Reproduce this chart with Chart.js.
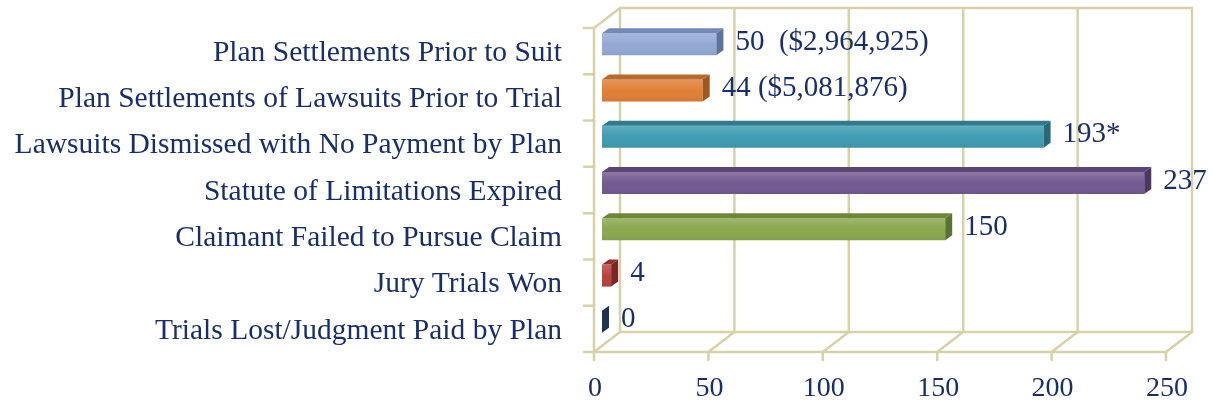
<!DOCTYPE html>
<html>
<head>
<meta charset="utf-8">
<script src="https://cdn.jsdelivr.net/npm/chart.js@4.4.1/dist/chart.umd.min.js"></script>
<style>
    html, body { margin: 0; padding: 0; background: #fff; }
    #wrap { width: 1212px; height: 404px; position: relative; }
</style>
</head>
<body>
<div id="wrap"><canvas id="chart"></canvas></div>
<script>
// Data
const categories = [
    'Plan Settlements Prior to Suit',
    'Plan Settlements of Lawsuits Prior to Trial',
    'Lawsuits Dismissed with No Payment by Plan',
    'Statute of Limitations Expired',
    'Claimant Failed to Pursue Claim',
    'Jury Trials Won',
    'Trials Lost/Judgment Paid by Plan'
];
const counts = [50, 44, 193, 237, 150, 4, 0];
const valueLabels = ['50  ($2,964,925)', '44 ($5,081,876)', '193*', '237', '150', '4', '0'];
const xTicks = [0, 50, 100, 150, 200, 250];

// Styling
const frontColors = ['#93a9d5', '#e07f36', '#409bb2', '#735a90', '#8ca84f', '#b9423c', '#2a4a78'];
const topColors   = ['#7389b6', '#b8692c', '#2f7b8e', '#5a4575', '#6e873c', '#8f302c', '#203a60'];
const sideColors  = ['#5f7299', '#9c5723', '#276878', '#4b3963', '#5c7232', '#7a2825', '#1b3253'];
const textColor = '#1a2f6a';
const wallColor = '#d6d1a9';
const FONT = '"Liberation Serif", "Times New Roman", serif';

// 3D offsets (px) relative to the bar plane
const FRONT = { dx: -8, dy: 7 };
const BACK = { dx: 18, dy: -13 };
const DEPTH = { dx: 7, dy: -5 };

const box3d = {
    id: 'box3d',
    beforeDatasetsDraw(chart) {
        const { ctx, chartArea: a, scales: { x } } = chart;
        ctx.save();
        ctx.strokeStyle = wallColor;
        ctx.lineWidth = 2.5;
        ctx.lineCap = 'round';
        const line = (x1, y1, x2, y2) => { ctx.beginPath(); ctx.moveTo(x1, y1); ctx.lineTo(x2, y2); ctx.stroke(); };

        const fTop = a.top + FRONT.dy, fBot = a.bottom + FRONT.dy;
        const bTop = a.top + BACK.dy, bBot = a.bottom + BACK.dy;

        // back wall grid + floor lines + bottom ticks
        xTicks.forEach(v => {
            const p = x.getPixelForValue(v);
            line(p + BACK.dx, bTop, p + BACK.dx, bBot);
            line(p + FRONT.dx, fBot, p + BACK.dx, bBot);
            line(p + FRONT.dx, fBot, p + FRONT.dx, fBot + 8);
        });
        const p0 = x.getPixelForValue(xTicks[0]);
        const pN = x.getPixelForValue(xTicks[xTicks.length - 1]);
        line(p0 + BACK.dx, bTop, pN + BACK.dx, bTop);
        line(p0 + BACK.dx, bBot, pN + BACK.dx, bBot);
        line(p0 + FRONT.dx, fBot, pN + FRONT.dx, fBot);

        // left wall
        line(p0 + FRONT.dx, fTop, p0 + FRONT.dx, fBot);
        line(p0 + FRONT.dx, fTop, p0 + BACK.dx, bTop);
        const step = (a.bottom - a.top) / categories.length;
        for (let k = 0; k <= categories.length; k++) {
            const yy = fTop + k * step;
            line(p0 + FRONT.dx - 10, yy, p0 + FRONT.dx, yy);
        }
        ctx.restore();
    },
    afterDatasetsDraw(chart) {
        const { ctx } = chart;
        const meta = chart.getDatasetMeta(0);
        ctx.save();
        meta.data.forEach((bar, i) => {
            const { x, y, base, height } = bar.getProps(['x', 'y', 'base', 'height'], true);
            const top = y - height / 2, bot = y + height / 2;
            // soft shine on the front face
            if (x > base) {
                const g = ctx.createLinearGradient(0, top, 0, bot);
                g.addColorStop(0, 'rgba(255,255,255,0.18)');
                g.addColorStop(0.5, 'rgba(255,255,255,0)');
                g.addColorStop(1, 'rgba(0,0,0,0.06)');
                ctx.fillStyle = g;
                ctx.fillRect(base, top, x - base, bot - top);
            }
            // top face
            ctx.fillStyle = topColors[i];
            ctx.beginPath();
            ctx.moveTo(base, top);
            ctx.lineTo(base + DEPTH.dx, top + DEPTH.dy);
            ctx.lineTo(x + DEPTH.dx, top + DEPTH.dy);
            ctx.lineTo(x, top);
            ctx.closePath();
            ctx.fill();
            // side face
            ctx.fillStyle = sideColors[i];
            ctx.beginPath();
            ctx.moveTo(x, top);
            ctx.lineTo(x + DEPTH.dx, top + DEPTH.dy);
            ctx.lineTo(x + DEPTH.dx, bot + DEPTH.dy);
            ctx.lineTo(x, bot);
            ctx.closePath();
            ctx.fill();
            // value label
            ctx.fillStyle = textColor;
            ctx.font = '29px ' + FONT;
            ctx.textAlign = 'left';
            ctx.textBaseline = 'middle';
            ctx.fillText(valueLabels[i], x + DEPTH.dx + 12, y - 2);
        });
        ctx.restore();
    }
};

new Chart(document.getElementById('chart'), {
    type: 'bar',
    data: {
        labels: categories,
        datasets: [{
            data: counts,
            backgroundColor: frontColors,
            borderWidth: 0,
            barPercentage: 0.475,
            categoryPercentage: 1
        }]
    },
    options: {
        indexAxis: 'y',
        responsive: true,
        maintainAspectRatio: false,
        animation: false,
        layout: { padding: { left: 0, right: 38, top: 21, bottom: 0 } },
        plugins: { legend: { display: false }, tooltip: { enabled: false } },
        scales: {
            x: {
                min: 0,
                max: 250,
                grid: { display: false },
                border: { display: false },
                ticks: {
                    stepSize: 50,
                    color: textColor,
                    font: { family: FONT, size: 28 },
                    padding: 19,
                    labelOffset: -7,
                    maxRotation: 0
                },
                afterFit: s => {
                    s.height = 59;
                    s.paddingLeft = 0;
                    s.paddingRight = 0;
                }
            },
            y: {
                grid: { display: false },
                border: { display: false },
                ticks: {
                    color: textColor,
                    font: { family: FONT, size: 29.5 },
                    padding: 32,
                    labelOffset: 9
                },
                afterFit: s => {
                    s.width = 602;
                    s.paddingTop = 0;
                    s.paddingBottom = 0;
                }
            }
        }
    },
    plugins: [box3d]
});
</script>
</body>
</html>
